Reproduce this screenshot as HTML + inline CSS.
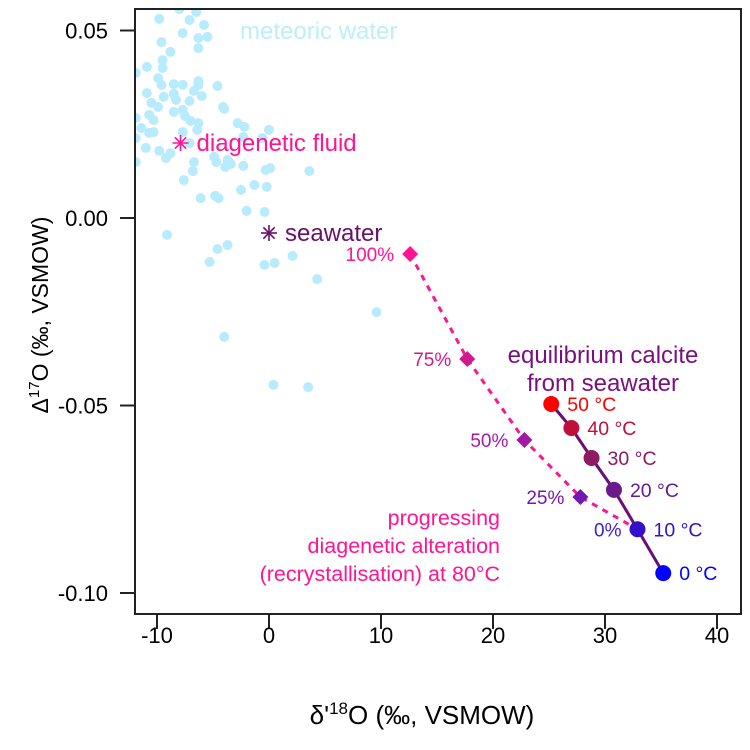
<!DOCTYPE html>
<html><head><meta charset="utf-8"><style>
body{margin:0;background:#fff}
svg{display:block;font-family:"Liberation Sans",Arial,sans-serif}
</style></head><body>
<svg id="chart" width="750" height="750" viewBox="0 0 750 750" xmlns="http://www.w3.org/2000/svg">
<defs><clipPath id="clip"><rect x="135" y="9" width="606" height="605"/></clipPath></defs>
<g id="pts" clip-path="url(#clip)"></g>
<rect x="135" y="9" width="606" height="605" fill="none" stroke="#222" stroke-width="2"/>
<g id="axes"></g>
<text x="422" y="724" text-anchor="middle" font-size="26">δ'<tspan font-size="17" dy="-10">18</tspan><tspan dy="10">O (‰, VSMOW)</tspan></text>
<text transform="translate(48,315) rotate(-90)" text-anchor="middle" font-size="23">Δ<tspan font-size="15" dy="-9">17</tspan><tspan dy="9">O (‰, VSMOW)</tspan></text>
<text x="240" y="39" font-size="24" fill="#bdeefc">meteoric water</text>
<text x="603" y="363" text-anchor="middle" font-size="24" fill="#7a0f7f">equilibrium calcite</text>
<text x="603" y="391" text-anchor="middle" font-size="24" fill="#7a0f7f">from seawater</text>
<text x="500" y="525" text-anchor="end" font-size="21.5" fill="#ff1493">progressing</text>
<text x="500" y="553" text-anchor="end" font-size="21.5" fill="#ff1493">diagenetic alteration</text>
<text x="500" y="581" text-anchor="end" font-size="21.5" fill="#ff1493">(recrystallisation) at 80°C</text>
</svg>
<script>
const meteoricX=[-8.0,-6.5,-7.1,-9.8,-5.8,-5.5,-7.7,-6.3,-6.3,-9.6,-8.8,-9.5,-9.5,-10.9,-11.9,-9.9,-9.6,-8.5,-7.7,-6.3,-6.3,-6.7,-4.6,-10.9,-9.4,-8.5,-8.3,-7.1,-6.0,-10.5,-9.9,-8.5,-7.7,-11.9,-10.7,-10.3,-7.5,-7.0,-6.3,-4.1,-4.0,-2.8,-2.2,-11.4,-10.7,-10.3,-7.7,-6.4,-2.3,-0.6,0.0,-11.9,-11.0,-9.8,-9.2,-8.8,-7.1,-4.9,-4.7,-3.7,-3.4,-3.9,-2.3,-6.7,-11.9,-0.3,0.1,3.6,-6.8,-7.6,-2.5,-1.3,-0.2,-6.1,-4.8,-4.5,-9.1,-4.6,-3.7,-5.3,-0.4,0.5,2.1,4.3,9.6,-4.0,0.4,3.5,-2.0,-0.4];
const meteoricY=[0.0557,0.0549,0.0528,0.0531,0.0515,0.0483,0.0493,0.0480,0.0453,0.0469,0.0443,0.0421,0.0400,0.0403,0.0387,0.0373,0.0355,0.0357,0.0355,0.0365,0.0355,0.0339,0.0352,0.0333,0.0323,0.0331,0.0315,0.0312,0.0325,0.0307,0.0296,0.0283,0.0288,0.0267,0.0275,0.0261,0.0272,0.0259,0.0253,0.0296,0.0291,0.0253,0.0243,0.0240,0.0227,0.0229,0.0229,0.0235,0.0216,0.0213,0.0235,0.0213,0.0187,0.0179,0.0160,0.0173,0.0200,0.0163,0.0149,0.0155,0.0144,0.0136,0.0139,0.0149,0.0149,0.0128,0.0133,0.0125,0.0125,0.0101,0.0075,0.0088,0.0083,0.0053,0.0059,0.0053,-0.0045,-0.0083,-0.0072,-0.0117,-0.0125,-0.0120,-0.0101,-0.0163,-0.0251,-0.0317,-0.0445,-0.0451,0.0019,0.0016];
const calciteLabels=["50 °C","40 °C","30 °C","20 °C","10 °C","0 °C"];
const calciteX=[25.2,27.0,28.8,30.8,32.9,35.2];
const calciteY=[-0.0496,-0.0560,-0.0640,-0.0725,-0.0830,-0.0947];
const calciteColors=["#ff0000","#c0103a","#8e1a60","#6a1a8c","#3410c8","#0000ff"];
const mixLabels=["100%","75%","50%","25%","0%"];
const mixX=[12.6,17.7,22.8,27.8,32.9];
const mixY=[-0.0096,-0.0376,-0.0592,-0.0744,-0.0830];
const mixColors=["#ff1493","#d0188f","#a01aa8","#7018b0","#3a20d0"];
const xTicks=[-10,0,10,20,30,40];
const yTicks=[0.05,0.00,-0.05,-0.10];
const yTickLabels=["0.05","0.00","-0.05","-0.10"];

const X=v=>269+v*11.2;
const Y=v=>218-v*3750;
const NS="http://www.w3.org/2000/svg";
function mk(tag,attrs,parent){const e=document.createElementNS(NS,tag);for(const k in attrs)e.setAttribute(k,attrs[k]);parent.appendChild(e);return e;}
const svg=document.getElementById('chart');
const pts=document.getElementById('pts');
const axes=document.getElementById('axes');

meteoricX.forEach((x,i)=>{
  const c=mk('circle',{cx:X(x),cy:Y(meteoricY[i]),r:5,fill:'#b8ebfb'},pts);
  
  
});

let d='';
mixX.forEach((x,i)=>{d+=(i?'L':'M')+X(x)+','+Y(mixY[i]);});
const mp=mk('path',{d:d,fill:'none',stroke:'#ff1493','stroke-width':3,'stroke-dasharray':'6,6'},pts);



let d2='';
calciteX.forEach((x,i)=>{d2+=(i?'L':'M')+X(x)+','+Y(calciteY[i]);});
const cp=mk('path',{d:d2,fill:'none',stroke:'#6a0f77','stroke-width':3},pts);



mixX.forEach((x,i)=>{
  const cx=X(x),cy=Y(mixY[i]);
  if(i<4){
    const p=mk('polygon',{points:`${cx},${cy-8} ${cx+8},${cy} ${cx},${cy+8} ${cx-8},${cy}`,fill:mixColors[i]},svg);
    
    
  }
  const t=mk('text',{x:cx-16,y:cy+7,'text-anchor':'end','font-size':19,fill:mixColors[i]},svg);
  t.textContent=mixLabels[i];
  
  
});

calciteX.forEach((x,i)=>{
  const cx=X(x),cy=Y(calciteY[i]);
  const c=mk('circle',{cx:cx,cy:cy,r:8,fill:calciteColors[i]},svg);
  
  
  const t=mk('text',{x:cx+16,y:cy+7,'font-size':19.5,fill:calciteColors[i]},svg);
  t.textContent=calciteLabels[i];
  
  
});

function star(x,y,col,name,label){
  const cx=X(x),cy=Y(y);
  const g=mk('g',{stroke:col,'stroke-width':1.6},svg);
  
  
  for(let a=0;a<4;a++){const an=a*Math.PI/4;const dx=8*Math.cos(an),dy=8*Math.sin(an);mk('line',{x1:cx-dx,y1:cy-dy,x2:cx+dx,y2:cy+dy},g);}
  const t=mk('text',{x:cx+16,y:cy+8,'font-size':24,fill:col},svg);
  t.textContent=label;
  
  
}
star(-7.9,0.020,'#ff1493','diagenetic-fluid','diagenetic fluid');
star(0,-0.004,'#6a0f6a','seawater','seawater');

xTicks.forEach(v=>{
  const l=mk('line',{x1:X(v),x2:X(v),y1:614,y2:629,stroke:'#222','stroke-width':2},axes);
  
  
  const t=mk('text',{x:X(v),y:643,'text-anchor':'middle','font-size':22},axes);
  t.textContent=String(v);
  
  
});
yTicks.forEach((v,i)=>{
  const l=mk('line',{x1:120,x2:135,y1:Y(v),y2:Y(v),stroke:'#222','stroke-width':2},axes);
  
  
  const t=mk('text',{x:108,y:Y(v)+8,'text-anchor':'end','font-size':22},axes);
  t.textContent=yTickLabels[i];
  
  
});
</script>
</body></html>
